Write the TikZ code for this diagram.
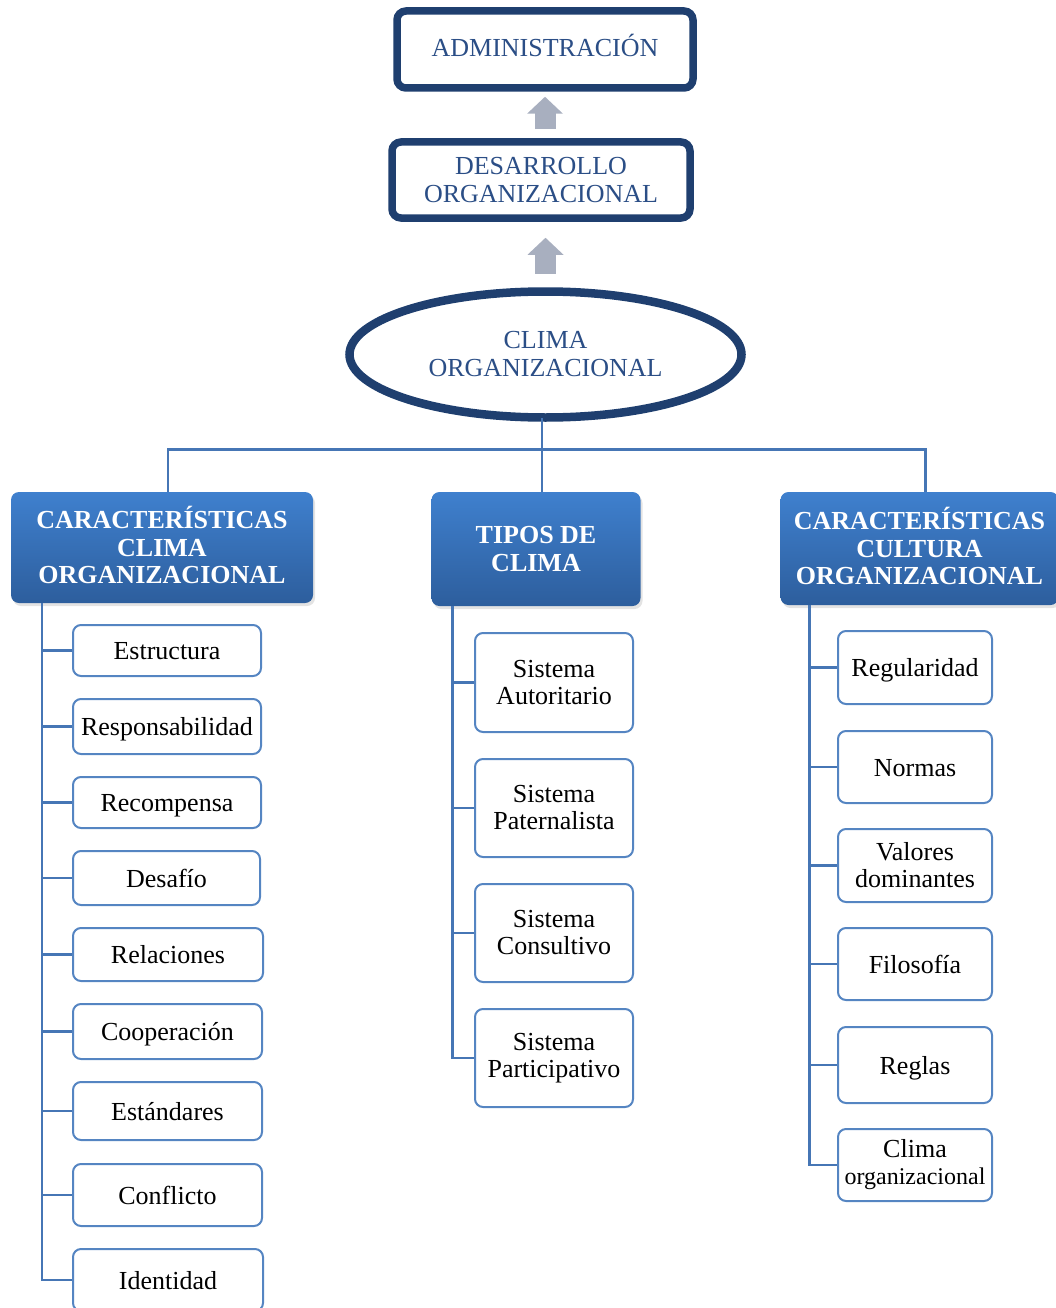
\documentclass[tikz,border=0pt]{standalone}
\usepackage{fontspec}
\setmainfont{Liberation Serif}
\usetikzlibrary{shapes.geometric,shadows,arrows.meta,calc}

\definecolor{navy}{HTML}{1F3F6F}
\definecolor{navytext}{HTML}{2B4E86}
\definecolor{hdtop}{HTML}{3F80CE}
\definecolor{hdbot}{HTML}{2D5E9D}
\definecolor{linkblue}{HTML}{4676B5}
\definecolor{boxblue}{HTML}{5585C2}
\definecolor{arrowgray}{HTML}{A8AFBF}

% first header line without the accent's extra height
\newcommand{\capline}[1]{\raisebox{0pt}[18pt][0pt]{#1}}

\tikzset{
  softshadow/.style={drop shadow={opacity=0.22, shadow xshift=2pt, shadow yshift=-3pt}},
  topbox/.style={draw=navy, line width=7.5pt, rounded corners=9pt, fill=white,
    text=navytext, align=center, inner sep=0pt, softshadow,
    font=\fontsize{26}{28}\selectfont},
  headbox/.style={rounded corners=8pt, top color=hdtop, bottom color=hdbot,
    text=white, align=center, inner sep=0pt, softshadow,
    font=\bfseries\fontsize{26}{27.5}\selectfont},
  leaf/.style={draw=boxblue, line width=2pt, rounded corners=8pt, fill=white,
    align=center, inner sep=0pt, font=\fontsize{26}{27}\selectfont},
  oneline/.style={text height=22pt, text depth=4pt},
  conn/.style={draw=linkblue, line width=2.5pt},
  blockarrow/.style={draw=arrowgray, line width=21pt,
    -{Triangle[width=35pt,length=17pt]}},
}

\begin{document}
\begin{tikzpicture}[x=1pt,y=-1pt]
\useasboundingbox (0,0) rectangle (1056,1308);

% upper chain
\node[topbox, text height=20pt, text depth=6pt, minimum width=296pt, minimum height=77pt] (admin) at (545,49.5) {ADMINISTRACIÓN};
\node[topbox, minimum width=298pt, minimum height=76pt] (desa) at (541,180) {DESARROLLO\\ORGANIZACIONAL};
\node[ellipse, draw=navy, line width=8.5pt, fill=white, text=navytext, align=center,
      inner sep=0pt, softshadow, font=\fontsize{26}{28}\selectfont,
      minimum width=392pt, minimum height=126pt] (clima) at (545.5,354.5) {CLIMA\\ORGANIZACIONAL};

\draw[blockarrow] ($(desa.north -| admin.south)+(0,9pt)$) -- ($(admin.south)+(0,-5pt)$);
\draw[blockarrow] ($(clima.north)+(0,13.5pt)$) -- ($(desa.south -| clima.north)+(0,-16pt)$);

% category headers
\node[headbox, minimum width=302pt, minimum height=111pt] (h1) at (162,547.5) {\capline{CARACTERÍSTICAS}\\CLIMA\\ORGANIZACIONAL};
\node[headbox, minimum width=209pt, minimum height=114pt] (h2) at (536,549) {TIPOS DE\\CLIMA};
\node[headbox, minimum width=278pt, minimum height=113pt] (h3) at (919.5,548.5) {\capline{CARACTERÍSTICAS}\\CULTURA\\ORGANIZACIONAL};

% bus from the ellipse to the headers
\coordinate (busstart) at ($(clima.south)+(-3.5pt,3.5pt)$);
\draw[conn] (busstart) -- ++(0,-31pt) -| ([xshift=6pt]h1.north);
\draw[conn] (busstart) -- ++(0,-31pt) -| ([xshift=6pt]h3.north);
\draw[conn] (busstart) -- ([xshift=6pt]h2.north);

% first column
\node[leaf, oneline, minimum width=188pt, minimum height=51pt] (a1) at (167,650.5) {Estructura};
\node[leaf, oneline, minimum width=188pt, minimum height=55pt] (a2) at (167,726.5) {Responsabilidad};
\node[leaf, oneline, minimum width=188pt, minimum height=51pt] (a3) at (167,802.5) {Recompensa};
\node[leaf, oneline, minimum width=187pt, minimum height=54pt] (a4) at (166.5,878) {Desafío};
\node[leaf, oneline, minimum width=190pt, minimum height=53pt] (a5) at (168,954.5) {Relaciones};
\node[leaf, oneline, minimum width=189pt, minimum height=55pt] (a6) at (167.5,1031.5) {Cooperación};
\node[leaf, oneline, minimum width=189pt, minimum height=58pt] (a7) at (167.5,1111) {Estándares};
\node[leaf, oneline, minimum width=189pt, minimum height=62pt] (a8) at (167.5,1195) {Conflicto};
\node[leaf, oneline, minimum width=190pt, minimum height=62pt] (a9) at (168,1280) {Identidad};
\foreach \n in {a1,a2,a3,a4,a5,a6,a7,a8,a9}
  \draw[conn] ([xshift=31pt]h1.south west) |- (\n.west);

% second column
\node[leaf, minimum width=158pt, minimum height=99pt] (b1) at (554,682.5) {Sistema\\Autoritario};
\node[leaf, minimum width=158pt, minimum height=98pt] (b2) at (554,808) {Sistema\\Paternalista};
\node[leaf, minimum width=158pt, minimum height=98pt] (b3) at (554,933) {Sistema\\Consultivo};
\node[leaf, minimum width=158pt, minimum height=98pt] (b4) at (554,1058) {Sistema\\Participativo};
\foreach \n in {b1,b2,b3,b4}
  \draw[conn] ([xshift=21pt]h2.south west) |- (\n.west);

% third column
\node[leaf, oneline, minimum width=154pt, minimum height=73pt] (c1) at (915,667.5) {Regularidad};
\node[leaf, oneline, minimum width=154pt, minimum height=72pt] (c2) at (915,767) {Normas};
\node[leaf, minimum width=154pt, minimum height=73pt] (c3) at (915,865.5) {Valores\\dominantes};
\node[leaf, oneline, minimum width=154pt, minimum height=72pt] (c4) at (915,964) {Filosofía};
\node[leaf, oneline, minimum width=154pt, minimum height=76pt] (c5) at (915,1065) {Reglas};
\node[leaf, minimum width=154pt, minimum height=72pt] (c6) at (915,1165) {Clima\\{\fontsize{24}{27}\selectfont organizacional}};
\foreach \n in {c1,c2,c3,c4,c5,c6}
  \draw[conn] ([xshift=29pt]h3.south west) |- (\n.west);
\end{tikzpicture}
\end{document}
